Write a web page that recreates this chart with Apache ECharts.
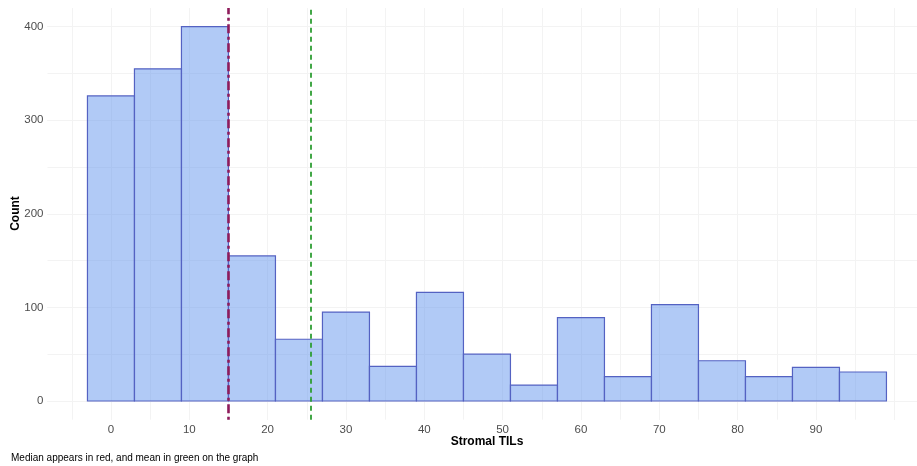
<!DOCTYPE html>
<html>
<head>
<meta charset="utf-8">
<script src="https://cdn.jsdelivr.net/npm/echarts@6/dist/echarts.min.js"></script>
<style>
  html, body { margin: 0; padding: 0; background: #ffffff; }
  #chart { width: 917px; height: 466px; }
</style>
</head>
<body>
<div id="chart"></div>
<script>
// ---- data ----
const binCenters = [0, 6, 12, 18, 24, 30, 36, 42, 48, 54, 60, 66, 72, 78, 84, 90, 96];
const counts     = [326, 355, 400, 155, 66, 95, 37, 116, 50, 17, 89, 26, 103, 43, 26, 36, 31];
const binWidth = 6;
const medianValue = 15;
const meanValue = 25.5;
const xTickLabels = [0, 10, 20, 30, 40, 50, 60, 70, 80, 90];
const yTickLabels = [0, 100, 200, 300, 400];

const FONT = '"Liberation Sans", Arial, sans-serif';
const chart = echarts.init(document.getElementById('chart'), null, { renderer: 'canvas' });

const seriesData = binCenters.map((c, i) => [c, counts[i]]);
const fmt = list => v => (list.indexOf(Math.round(v)) >= 0 && Math.abs(v - Math.round(v)) < 1e-6) ? String(Math.round(v)) : '';

const option = {
  animation: false,
  backgroundColor: '#ffffff',
  grid: { left: 47.5, right: 0, top: 8, bottom: 46.3, containLabel: false },
  xAxis: [
    {
      type: 'value', min: -8.1, max: 102.9, splitNumber: 11,
      axisLine: { show: false }, axisTick: { show: false },
      axisLabel: {
        fontFamily: FONT, fontSize: 11.5, color: '#4d4d4d', margin: 4,
        showMinLabel: false, showMaxLabel: false, formatter: fmt(xTickLabels)
      },
      splitLine: { show: true, showMinLine: false, showMaxLine: false, lineStyle: { color: '#ebebeb', width: 1 } }
    },
    {
      type: 'value', min: -8.1, max: 102.9, splitNumber: 22,
      axisLine: { show: false }, axisTick: { show: false }, axisLabel: { show: false },
      splitLine: { show: true, showMinLine: false, showMaxLine: false, lineStyle: { color: '#f3f3f3', width: 1 } }
    }
  ],
  yAxis: [
    {
      type: 'value', min: -20, max: 420, splitNumber: 4,
      axisLine: { show: false }, axisTick: { show: false },
      axisLabel: {
        fontFamily: FONT, fontSize: 11.5, color: '#4d4d4d', margin: 4,
        showMinLabel: false, showMaxLabel: false, formatter: fmt(yTickLabels)
      },
      splitLine: { show: true, showMinLine: false, showMaxLine: false, lineStyle: { color: '#ebebeb', width: 1 } }
    },
    {
      type: 'value', min: -20, max: 420, splitNumber: 9, position: 'left',
      axisLine: { show: false }, axisTick: { show: false }, axisLabel: { show: false },
      splitLine: { show: true, showMinLine: false, showMaxLine: false, lineStyle: { color: '#f3f3f3', width: 1 } }
    }
  ],
  graphic: [
    {
      type: 'text', x: 16, y: 213.5, rotation: Math.PI / 2,
      style: { text: 'Count', font: 'bold 12px ' + FONT, fill: '#000000', align: 'center', verticalAlign: 'middle' }
    },
    {
      type: 'text', x: 487, y: 442,
      style: { text: 'Stromal TILs', font: 'bold 12px ' + FONT, fill: '#000000', align: 'center', verticalAlign: 'middle' }
    },
    {
      type: 'text', x: 11, y: 458,
      style: { text: 'Median appears in red, and mean in green on the graph', font: '10px ' + FONT, fill: '#000000', align: 'left', verticalAlign: 'middle' }
    }
  ],
  series: [
    {
      type: 'custom',
      xAxisIndex: 0, yAxisIndex: 0,
      data: seriesData,
      encode: { x: 0, y: 1 },
      renderItem: function (params, api) {
        const x = api.value(0), y = api.value(1);
        const p0 = api.coord([x - binWidth / 2, y]);
        const p1 = api.coord([x + binWidth / 2, 0]);
        return {
          type: 'rect',
          shape: { x: p0[0], y: p0[1], width: p1[0] - p0[0], height: p1[1] - p0[1] },
          style: { fill: 'rgba(100,149,237,0.5)', stroke: '#5462c2', lineWidth: 1.2 }
        };
      },
      markLine: {
        silent: true, symbol: 'none', animation: false,
        label: { show: false },
        data: [
          { xAxis: medianValue, lineStyle: { color: '#8e1b5b', width: 2.6, type: [3, 3.5, 9, 3.5], opacity: 1 } },
          { xAxis: meanValue, lineStyle: { color: '#2e9e33', width: 1.8, type: [5, 4], opacity: 1 } }
        ]
      }
    }
  ]
};
chart.setOption(option);
</script>
</body>
</html>
